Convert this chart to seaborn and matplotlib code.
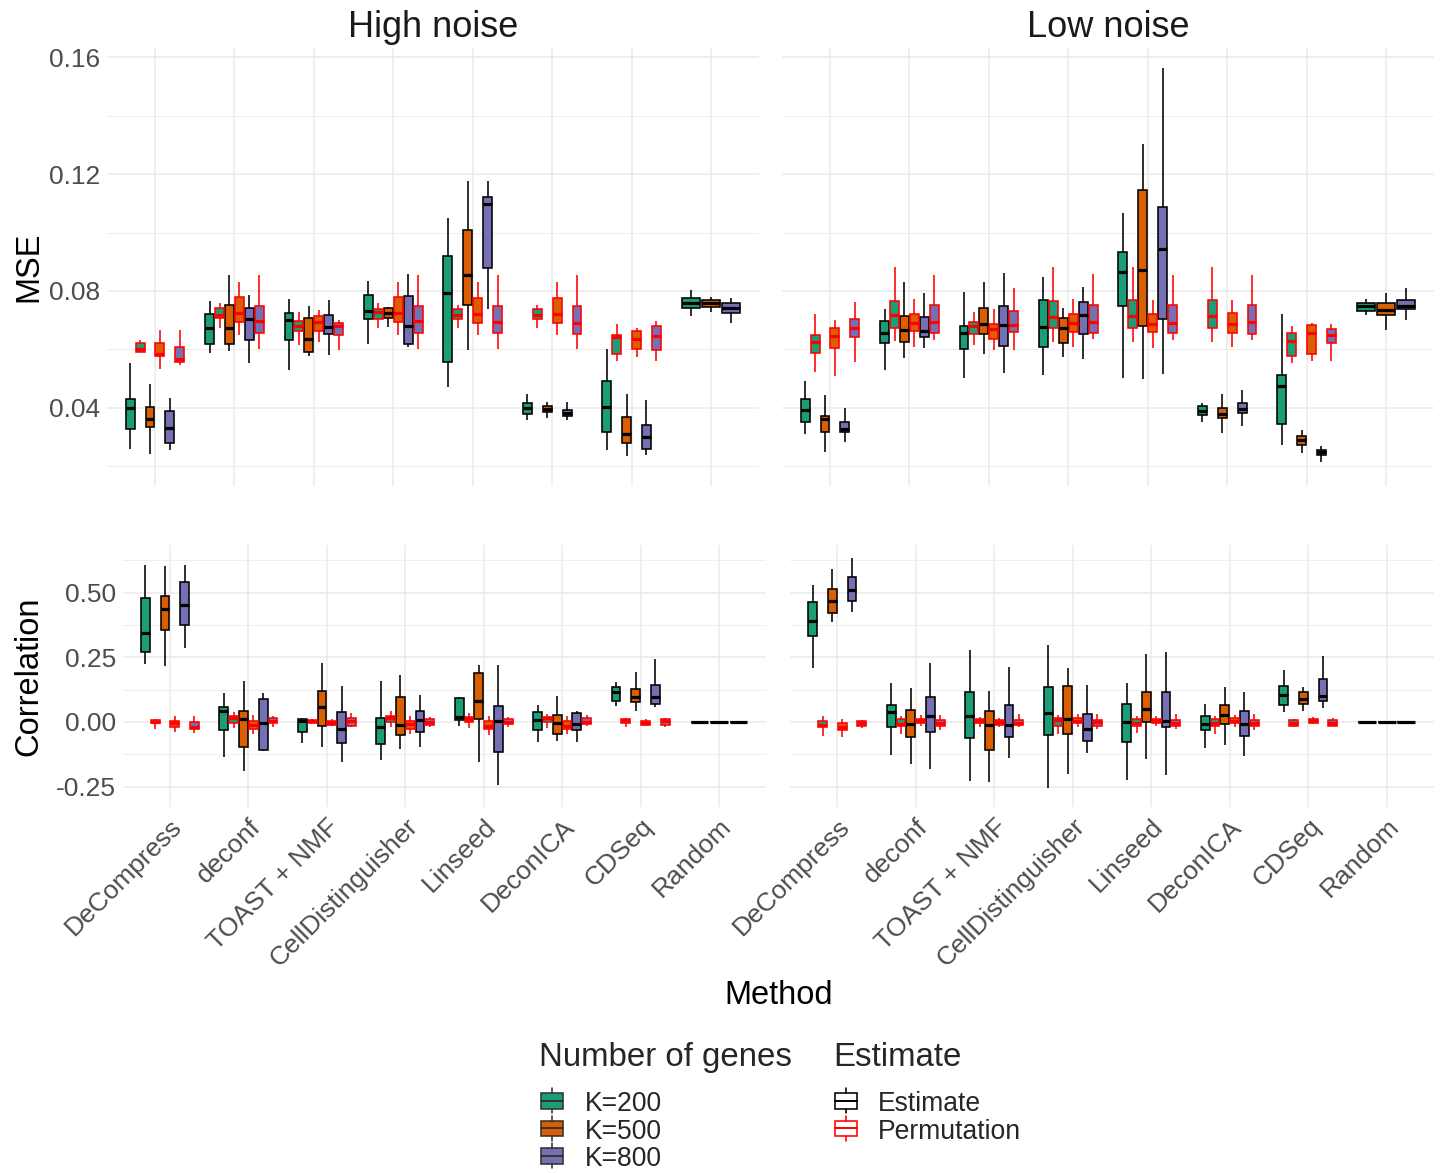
import matplotlib
matplotlib.use("Agg")
import matplotlib.pyplot as plt
from matplotlib.ticker import FixedLocator, FuncFormatter
from matplotlib.patches import Rectangle
import numpy as np
import pandas as pd
import seaborn as sns

W, H = 1443, 1173

METHODS = ["DeCompress", "deconf", "TOAST + NMF", "CellDistinguisher",
           "Linseed", "DeconICA", "CDSeq", "Random"]
K_LABELS = ["K=200", "K=500", "K=800"]
EST_LABELS = ["Estimate", "Permutation"]
NOISE_LABELS = ["High noise", "Low noise"]

# Five-number summaries per box: [lower whisker, Q1, median, Q3, upper whisker]
# Estimate arrays: one row per method in METHODS (8 rows, Random last)
# Permutation arrays: one row per method, Random excluded (7 rows)

# ---------------- MSE, High noise ----------------
mse_high_est_k200 = [
    [0.0259, 0.0328, 0.0398, 0.0431, 0.0552], [0.0586, 0.0618, 0.0672, 0.0722, 0.0767],
    [0.0529, 0.0631, 0.0701, 0.0726, 0.0771], [0.0617, 0.0703, 0.0731, 0.0785, 0.0834],
    [0.0471, 0.0555, 0.0793, 0.0920, 0.1051], [0.0359, 0.0379, 0.0400, 0.0416, 0.0448],
    [0.0254, 0.0316, 0.0404, 0.0492, 0.0602], [0.0715, 0.0743, 0.0757, 0.0775, 0.0802]]
mse_high_est_k500 = [
    [0.0241, 0.0335, 0.0363, 0.0403, 0.0483], [0.0594, 0.0619, 0.0674, 0.0753, 0.0855],
    [0.0577, 0.0590, 0.0637, 0.0709, 0.0749], [0.0675, 0.0706, 0.0726, 0.0741, 0.0746],
    [0.0599, 0.0752, 0.0856, 0.1007, 0.1176], [0.0364, 0.0384, 0.0396, 0.0407, 0.0419],
    [0.0236, 0.0278, 0.0311, 0.0368, 0.0448], [0.0727, 0.0744, 0.0757, 0.0768, 0.0779]]
mse_high_est_k800 = [
    [0.0256, 0.0279, 0.0331, 0.0390, 0.0434], [0.0552, 0.0632, 0.0705, 0.0743, 0.0785],
    [0.0581, 0.0653, 0.0675, 0.0717, 0.0769], [0.0607, 0.0617, 0.0679, 0.0781, 0.0858],
    [0.0737, 0.0877, 0.1097, 0.1120, 0.1177], [0.0359, 0.0370, 0.0383, 0.0393, 0.0419],
    [0.0238, 0.0257, 0.0299, 0.0342, 0.0427], [0.0690, 0.0725, 0.0743, 0.0757, 0.0777]]
mse_high_perm_k200 = [
    [0.0590, 0.0592, 0.0600, 0.0623, 0.0631], [0.0674, 0.0706, 0.0718, 0.0741, 0.0758],
    [0.0615, 0.0664, 0.0681, 0.0697, 0.0729], [0.0674, 0.0705, 0.0729, 0.0739, 0.0758],
    [0.0673, 0.0705, 0.0719, 0.0739, 0.0751], [0.0673, 0.0705, 0.0717, 0.0739, 0.0753],
    [0.0560, 0.0585, 0.0642, 0.0650, 0.0686]]
mse_high_perm_k500 = [
    [0.0531, 0.0578, 0.0583, 0.0623, 0.0666], [0.0649, 0.0694, 0.0726, 0.0778, 0.0831],
    [0.0626, 0.0662, 0.0694, 0.0714, 0.0735], [0.0650, 0.0694, 0.0726, 0.0778, 0.0831],
    [0.0650, 0.0691, 0.0722, 0.0776, 0.0830], [0.0650, 0.0691, 0.0722, 0.0777, 0.0830],
    [0.0574, 0.0600, 0.0634, 0.0662, 0.0674]]
mse_high_perm_k800 = [
    [0.0545, 0.0558, 0.0566, 0.0609, 0.0666], [0.0602, 0.0657, 0.0697, 0.0749, 0.0855],
    [0.0597, 0.0649, 0.0680, 0.0691, 0.0701], [0.0600, 0.0657, 0.0697, 0.0749, 0.0855],
    [0.0602, 0.0656, 0.0694, 0.0747, 0.0853], [0.0602, 0.0654, 0.0691, 0.0747, 0.0853],
    [0.0559, 0.0599, 0.0647, 0.0680, 0.0697]]

# ---------------- MSE, Low noise ----------------
mse_low_est_k200 = [
    [0.0309, 0.0351, 0.0393, 0.0429, 0.0491], [0.0529, 0.0621, 0.0657, 0.0698, 0.0737],
    [0.0503, 0.0601, 0.0657, 0.0680, 0.0798], [0.0512, 0.0609, 0.0678, 0.0769, 0.0847],
    [0.0503, 0.0747, 0.0865, 0.0933, 0.1067], [0.0351, 0.0374, 0.0389, 0.0406, 0.0417],
    [0.0273, 0.0346, 0.0474, 0.0513, 0.0722], [0.0717, 0.0731, 0.0747, 0.0759, 0.0774]]
mse_low_est_k500 = [
    [0.0247, 0.0318, 0.0360, 0.0371, 0.0443], [0.0569, 0.0626, 0.0666, 0.0713, 0.0830],
    [0.0583, 0.0651, 0.0687, 0.0741, 0.0830], [0.0573, 0.0623, 0.0672, 0.0709, 0.0742],
    [0.0499, 0.0680, 0.0872, 0.1147, 0.1303], [0.0314, 0.0366, 0.0379, 0.0399, 0.0446],
    [0.0246, 0.0273, 0.0288, 0.0302, 0.0325], [0.0667, 0.0717, 0.0736, 0.0757, 0.0794]]
mse_low_est_k800 = [
    [0.0282, 0.0317, 0.0327, 0.0352, 0.0400], [0.0603, 0.0643, 0.0663, 0.0710, 0.0792],
    [0.0520, 0.0611, 0.0682, 0.0749, 0.0862], [0.0568, 0.0651, 0.0717, 0.0763, 0.0813],
    [0.0514, 0.0703, 0.0942, 0.1086, 0.1562], [0.0339, 0.0381, 0.0397, 0.0416, 0.0462],
    [0.0214, 0.0239, 0.0248, 0.0256, 0.0269], [0.0699, 0.0739, 0.0750, 0.0770, 0.0811]]
mse_low_perm_k200 = [
    [0.0523, 0.0586, 0.0624, 0.0649, 0.0720], [0.0630, 0.0674, 0.0717, 0.0765, 0.0883],
    [0.0614, 0.0651, 0.0680, 0.0694, 0.0727], [0.0626, 0.0674, 0.0712, 0.0766, 0.0881],
    [0.0625, 0.0674, 0.0713, 0.0768, 0.0881], [0.0625, 0.0672, 0.0713, 0.0768, 0.0881],
    [0.0554, 0.0578, 0.0627, 0.0656, 0.0681]]
mse_low_perm_k500 = [
    [0.0509, 0.0603, 0.0645, 0.0674, 0.0699], [0.0607, 0.0663, 0.0691, 0.0721, 0.0774],
    [0.0598, 0.0635, 0.0669, 0.0686, 0.0737], [0.0609, 0.0659, 0.0689, 0.0721, 0.0771],
    [0.0606, 0.0659, 0.0687, 0.0720, 0.0769], [0.0608, 0.0657, 0.0688, 0.0723, 0.0770],
    [0.0560, 0.0585, 0.0656, 0.0682, 0.0690]]
mse_low_perm_k800 = [
    [0.0555, 0.0643, 0.0672, 0.0703, 0.0761], [0.0632, 0.0656, 0.0694, 0.0753, 0.0855],
    [0.0598, 0.0661, 0.0682, 0.0733, 0.0809], [0.0634, 0.0656, 0.0695, 0.0752, 0.0857],
    [0.0631, 0.0655, 0.0691, 0.0751, 0.0856], [0.0631, 0.0654, 0.0694, 0.0751, 0.0854],
    [0.0559, 0.0623, 0.0648, 0.0671, 0.0688]]

# ---------------- Correlation, High noise ----------------
cor_high_est_k200 = [
    [0.224, 0.271, 0.344, 0.478, 0.607], [-0.134, -0.031, 0.044, 0.057, 0.111],
    [-0.080, -0.039, 0.005, 0.012, 0.017], [-0.149, -0.085, -0.021, 0.017, 0.159],
    [-0.017, 0.006, 0.019, 0.091, 0.095], [-0.076, -0.030, 0.006, 0.040, 0.066],
    [0.063, 0.082, 0.117, 0.136, 0.154], [-0.002, -0.001, 0.000, 0.001, 0.002]]
cor_high_est_k500 = [
    [0.217, 0.354, 0.436, 0.488, 0.603], [-0.189, -0.098, 0.013, 0.041, 0.159],
    [-0.095, -0.017, 0.057, 0.119, 0.227], [-0.106, -0.050, -0.012, 0.098, 0.182],
    [-0.154, 0.013, 0.082, 0.188, 0.219], [-0.075, -0.048, -0.006, 0.027, 0.100],
    [0.043, 0.079, 0.097, 0.127, 0.193], [-0.002, -0.001, 0.000, 0.001, 0.002]]
cor_high_est_k800 = [
    [0.285, 0.374, 0.451, 0.540, 0.606], [-0.112, -0.108, -0.005, 0.089, 0.111],
    [-0.153, -0.080, -0.028, 0.039, 0.139], [-0.098, -0.039, 0.008, 0.044, 0.104],
    [-0.242, -0.117, 0.003, 0.061, 0.219], [-0.079, -0.032, -0.009, 0.035, 0.044],
    [0.056, 0.071, 0.097, 0.142, 0.244], [-0.002, -0.001, 0.000, 0.001, 0.002]]
cor_high_perm_k200 = [
    [-0.026, -0.006, 0.000, 0.008, 0.013], [-0.024, -0.004, 0.015, 0.022, 0.037],
    [-0.005, -0.003, 0.003, 0.008, 0.012], [-0.018, -0.001, 0.014, 0.023, 0.041],
    [-0.022, -0.001, 0.012, 0.019, 0.035], [-0.022, 0.000, 0.014, 0.019, 0.032],
    [-0.019, -0.003, 0.006, 0.013, 0.014]]
cor_high_perm_k500 = [
    [-0.037, -0.018, -0.005, 0.005, 0.022], [-0.048, -0.027, -0.012, 0.004, 0.027],
    [-0.015, -0.012, -0.003, 0.004, 0.010], [-0.048, -0.027, -0.008, 0.005, 0.024],
    [-0.049, -0.026, -0.014, 0.004, 0.023], [-0.045, -0.026, -0.014, 0.004, 0.022],
    [-0.017, -0.013, -0.004, 0.005, 0.010]]
cor_high_perm_k800 = [
    [-0.043, -0.028, -0.021, -0.001, 0.024], [-0.021, -0.005, 0.003, 0.014, 0.023],
    [-0.018, -0.015, 0.005, 0.015, 0.036], [-0.019, -0.010, 0.000, 0.013, 0.019],
    [-0.019, -0.009, 0.001, 0.012, 0.021], [-0.017, -0.009, 0.000, 0.016, 0.025],
    [-0.019, -0.010, 0.004, 0.010, 0.016]]

# ---------------- Correlation, Low noise ----------------
cor_low_est_k200 = [
    [0.209, 0.331, 0.389, 0.463, 0.528], [-0.129, -0.018, 0.040, 0.067, 0.151],
    [-0.228, -0.063, 0.023, 0.115, 0.279], [-0.257, -0.051, 0.035, 0.134, 0.296],
    [-0.224, -0.077, 0.001, 0.071, 0.149], [-0.102, -0.033, -0.008, 0.024, 0.070],
    [0.040, 0.064, 0.106, 0.138, 0.200], [-0.002, -0.001, 0.000, 0.001, 0.002]]
cor_low_est_k500 = [
    [0.386, 0.422, 0.467, 0.515, 0.590], [-0.163, -0.057, -0.009, 0.046, 0.133],
    [-0.232, -0.107, -0.013, 0.044, 0.118], [-0.200, -0.045, 0.013, 0.138, 0.210],
    [-0.142, 0.000, 0.051, 0.115, 0.263], [-0.091, -0.008, 0.028, 0.064, 0.135],
    [0.044, 0.071, 0.090, 0.117, 0.136], [-0.002, -0.001, 0.000, 0.001, 0.002]]
cor_low_est_k800 = [
    [0.425, 0.469, 0.510, 0.560, 0.635], [-0.182, -0.040, 0.022, 0.095, 0.227],
    [-0.138, -0.058, -0.010, 0.066, 0.212], [-0.120, -0.073, -0.027, 0.031, 0.142],
    [-0.207, -0.019, 0.003, 0.117, 0.272], [-0.131, -0.054, -0.008, 0.044, 0.117],
    [0.055, 0.082, 0.100, 0.167, 0.255], [-0.002, -0.001, 0.000, 0.001, 0.002]]
cor_low_perm_k200 = [
    [-0.053, -0.021, -0.012, 0.004, 0.023], [-0.046, -0.015, -0.009, 0.010, 0.024],
    [-0.019, -0.006, 0.003, 0.010, 0.019], [-0.048, -0.017, 0.006, 0.014, 0.026],
    [-0.042, -0.014, -0.006, 0.012, 0.024], [-0.045, -0.017, -0.006, 0.013, 0.024],
    [-0.018, -0.015, -0.005, 0.008, 0.013]]
cor_low_perm_k500 = [
    [-0.058, -0.032, -0.019, -0.004, 0.013], [-0.017, -0.005, 0.005, 0.013, 0.028],
    [-0.019, -0.012, 0.000, 0.009, 0.015], [-0.019, -0.006, 0.004, 0.014, 0.030],
    [-0.014, -0.005, 0.004, 0.010, 0.023], [-0.018, -0.004, 0.005, 0.014, 0.027],
    [-0.009, -0.004, 0.003, 0.010, 0.019]]
cor_low_perm_k800 = [
    [-0.022, -0.014, -0.006, 0.003, 0.009], [-0.032, -0.017, -0.006, 0.006, 0.028],
    [-0.019, -0.013, -0.003, 0.008, 0.030], [-0.026, -0.017, 0.001, 0.008, 0.032],
    [-0.028, -0.014, -0.004, 0.008, 0.030], [-0.031, -0.015, -0.005, 0.009, 0.032],
    [-0.017, -0.014, -0.003, 0.009, 0.017]]

# axis ranges (the original scales also cover hidden outliers)
MSE_LIMITS = (0.0133, 0.1633)
COR_LIMITS = (-0.330, 0.684)
MSE_MAJOR = [0.04, 0.08, 0.12, 0.16]
MSE_MINOR = [0.02, 0.06, 0.10, 0.14]
COR_MAJOR = [-0.25, 0.0, 0.25, 0.50]
COR_MINOR = [-0.125, 0.125, 0.375, 0.625]

SERIES = [
    ("MSE", "High noise", "K=200", "Estimate", mse_high_est_k200),
    ("MSE", "High noise", "K=500", "Estimate", mse_high_est_k500),
    ("MSE", "High noise", "K=800", "Estimate", mse_high_est_k800),
    ("MSE", "High noise", "K=200", "Permutation", mse_high_perm_k200),
    ("MSE", "High noise", "K=500", "Permutation", mse_high_perm_k500),
    ("MSE", "High noise", "K=800", "Permutation", mse_high_perm_k800),
    ("MSE", "Low noise", "K=200", "Estimate", mse_low_est_k200),
    ("MSE", "Low noise", "K=500", "Estimate", mse_low_est_k500),
    ("MSE", "Low noise", "K=800", "Estimate", mse_low_est_k800),
    ("MSE", "Low noise", "K=200", "Permutation", mse_low_perm_k200),
    ("MSE", "Low noise", "K=500", "Permutation", mse_low_perm_k500),
    ("MSE", "Low noise", "K=800", "Permutation", mse_low_perm_k800),
    ("Correlation", "High noise", "K=200", "Estimate", cor_high_est_k200),
    ("Correlation", "High noise", "K=500", "Estimate", cor_high_est_k500),
    ("Correlation", "High noise", "K=800", "Estimate", cor_high_est_k800),
    ("Correlation", "High noise", "K=200", "Permutation", cor_high_perm_k200),
    ("Correlation", "High noise", "K=500", "Permutation", cor_high_perm_k500),
    ("Correlation", "High noise", "K=800", "Permutation", cor_high_perm_k800),
    ("Correlation", "Low noise", "K=200", "Estimate", cor_low_est_k200),
    ("Correlation", "Low noise", "K=500", "Estimate", cor_low_est_k500),
    ("Correlation", "Low noise", "K=800", "Estimate", cor_low_est_k800),
    ("Correlation", "Low noise", "K=200", "Permutation", cor_low_perm_k200),
    ("Correlation", "Low noise", "K=500", "Permutation", cor_low_perm_k500),
    ("Correlation", "Low noise", "K=800", "Permutation", cor_low_perm_k800),
]

rows = []
for metric, noise, k, est, arr in SERIES:
    methods = METHODS if est == "Estimate" else METHODS[:-1]
    for m, stats in zip(methods, arr):
        for v in stats:
            rows.append((metric, noise, m, k, est, v))
df = pd.DataFrame(rows, columns=["metric", "noise", "method", "K", "estimate", "value"])
df["slot"] = df["K"] + " | " + df["estimate"]
SLOTS = [f"{k} | {e}" for k in K_LABELS for e in EST_LABELS]

# ---------------- style ----------------
sns.set_theme(style="white")
plt.rcParams["font.family"] = ["Liberation Sans", "DejaVu Sans"]
K_COLORS = sns.color_palette("Dark2", 3)
K_PALETTE = dict(zip(K_LABELS, K_COLORS))
SLOT_PALETTE = {f"{k} | {e}": K_PALETTE[k] for k in K_LABELS for e in EST_LABELS}
EDGE = {"Estimate": "black", "Permutation": "#FF0000"}
GRID = "#EBEBEB"
TICK_COL = "#4D4D4D"

fig = plt.figure(figsize=(W / 100, H / 100), dpi=100)
fig.patch.set_facecolor("white")

PANEL_BOX = {
    ("MSE", "High noise"): (107.3, 47.7, 758.7, 485.7),
    ("MSE", "Low noise"): (782.3, 47.7, 1433.7, 485.7),
    ("Correlation", "High noise"): (122.9, 545.0, 766.1, 807.3),
    ("Correlation", "Low noise"): (790.2, 545.0, 1433.8, 807.3),
}


def px_axes(l, t, r, b):
    return fig.add_axes([l / W, 1 - b / H, (r - l) / W, (b - t) / H])


def draw_boxes(ax, sub):
    kw = dict(x="method", y="value", order=METHODS, whis=(0, 100), width=0.75,
              gap=0.1, dodge=True, legend=False, linewidth=1.15, saturation=1,
              showcaps=False, medianprops=dict(linewidth=2.3), ax=ax)
    est = sub[(sub["estimate"] == "Estimate") & (sub["method"] != "Random")]
    sns.boxplot(data=est, hue="slot", hue_order=SLOTS, palette=SLOT_PALETTE,
                linecolor=EDGE["Estimate"], **kw)
    perm = sub[sub["estimate"] == "Permutation"]
    sns.boxplot(data=perm, hue="slot", hue_order=SLOTS, palette=SLOT_PALETTE,
                linecolor=EDGE["Permutation"], **kw)
    rnd = sub[sub["method"] == "Random"]
    sns.boxplot(data=rnd, hue="K", hue_order=K_LABELS, palette=K_PALETTE,
                linecolor=EDGE["Estimate"], **kw)


fmt = FuncFormatter(lambda v, p: f"{v:.2f}")
for metric in ["MSE", "Correlation"]:
    ylim = MSE_LIMITS if metric == "MSE" else COR_LIMITS
    major = MSE_MAJOR if metric == "MSE" else COR_MAJOR
    minor = MSE_MINOR if metric == "MSE" else COR_MINOR
    for noise in NOISE_LABELS:
        ax = px_axes(*PANEL_BOX[(metric, noise)])
        sub = df[(df["metric"] == metric) & (df["noise"] == noise)]
        draw_boxes(ax, sub)
        ax.set_xlim(-0.6, len(METHODS) - 0.4)
        ax.set_ylim(*ylim)
        ax.yaxis.set_major_locator(FixedLocator(major))
        ax.yaxis.set_minor_locator(FixedLocator(minor))
        ax.yaxis.set_major_formatter(fmt)
        ax.set_xticks(range(len(METHODS)))
        ax.set_facecolor("white")
        ax.set_axisbelow(True)
        ax.grid(True, which="major", axis="both", color=GRID, linewidth=1.1)
        ax.grid(True, which="minor", axis="y", color=GRID, linewidth=0.6)
        ax.grid(False, which="minor", axis="x")
        for s in ax.spines.values():
            s.set_visible(False)
        ax.tick_params(which="both", length=0)
        ax.tick_params(axis="y", labelsize=19, labelcolor=TICK_COL, pad=5)
        ax.set_xlabel("")
        ax.set_ylabel("")
        if noise == "Low noise":
            ax.tick_params(axis="y", labelleft=False)
        if metric == "MSE":
            ax.tick_params(axis="x", labelbottom=False)
        else:
            ax.set_xticklabels(METHODS, rotation=45, ha="right", va="top",
                               rotation_mode="anchor", fontsize=19, color=TICK_COL)
            ax.tick_params(axis="x", pad=5)

# ---------------- titles ----------------
for noise in NOISE_LABELS:
    l, t, r, b = PANEL_BOX[("MSE", noise)]
    fig.text((l + r) / 2 / W, 1 - 37 / H, noise, fontsize=26, color="#1A1A1A",
             ha="center", va="baseline")
for metric in ["MSE", "Correlation"]:
    l, t, r, b = PANEL_BOX[(metric, "High noise")]
    fig.text(37 / W, 1 - (t + b) / 2 / H, metric, fontsize=23.5, color="black",
             rotation=90, rotation_mode="anchor", ha="center", va="baseline")
lh = PANEL_BOX[("Correlation", "High noise")][0]
rl = PANEL_BOX[("Correlation", "Low noise")][2]
fig.text((lh + rl) / 2 / W, 1 - 1004 / H, "Method", fontsize=23.5, color="black",
         ha="center", va="baseline")

# ---------------- legend ----------------
lg = fig.add_axes([0, 0, 1, 1])
lg.set_xlim(0, W)
lg.set_ylim(H, 0)
lg.axis("off")
lg.patch.set_alpha(0)

ROW_Y = [1100.9, 1128.4, 1155.9]
KEY_W, KEY_H, WHISK = 22.5, 15.3, 12.5


def key_glyph(x0, cy, fc, ec):
    lg.add_patch(Rectangle((x0, cy - KEY_H / 2), KEY_W, KEY_H, facecolor=fc,
                           edgecolor=ec, linewidth=1.15))
    lg.plot([x0, x0 + KEY_W], [cy, cy], color=ec, linewidth=1.4)
    xm = x0 + KEY_W / 2
    lg.plot([xm, xm], [cy - WHISK, cy - KEY_H / 2], color=ec, linewidth=1.15)
    lg.plot([xm, xm], [cy + KEY_H / 2, cy + WHISK], color=ec, linewidth=1.15)


lg.text(538.8, 1066.2, "Number of genes", fontsize=23.8, va="baseline", ha="left")
for k, cy in zip(K_LABELS, ROW_Y):
    key_glyph(540.8, cy, K_PALETTE[k], "#333333")
    lg.text(584.8, cy + 10.4, k, fontsize=19.1, va="baseline", ha="left")

lg.text(833.2, 1066.2, "Estimate", fontsize=23.8, va="baseline", ha="left")
for e, cy in zip(EST_LABELS, ROW_Y):
    key_glyph(834.9, cy, "white", EDGE[e])
    lg.text(878.2, cy + 10.4, e, fontsize=19.1, va="baseline", ha="left")

fig.savefig("out.png", dpi=100, facecolor="white")
